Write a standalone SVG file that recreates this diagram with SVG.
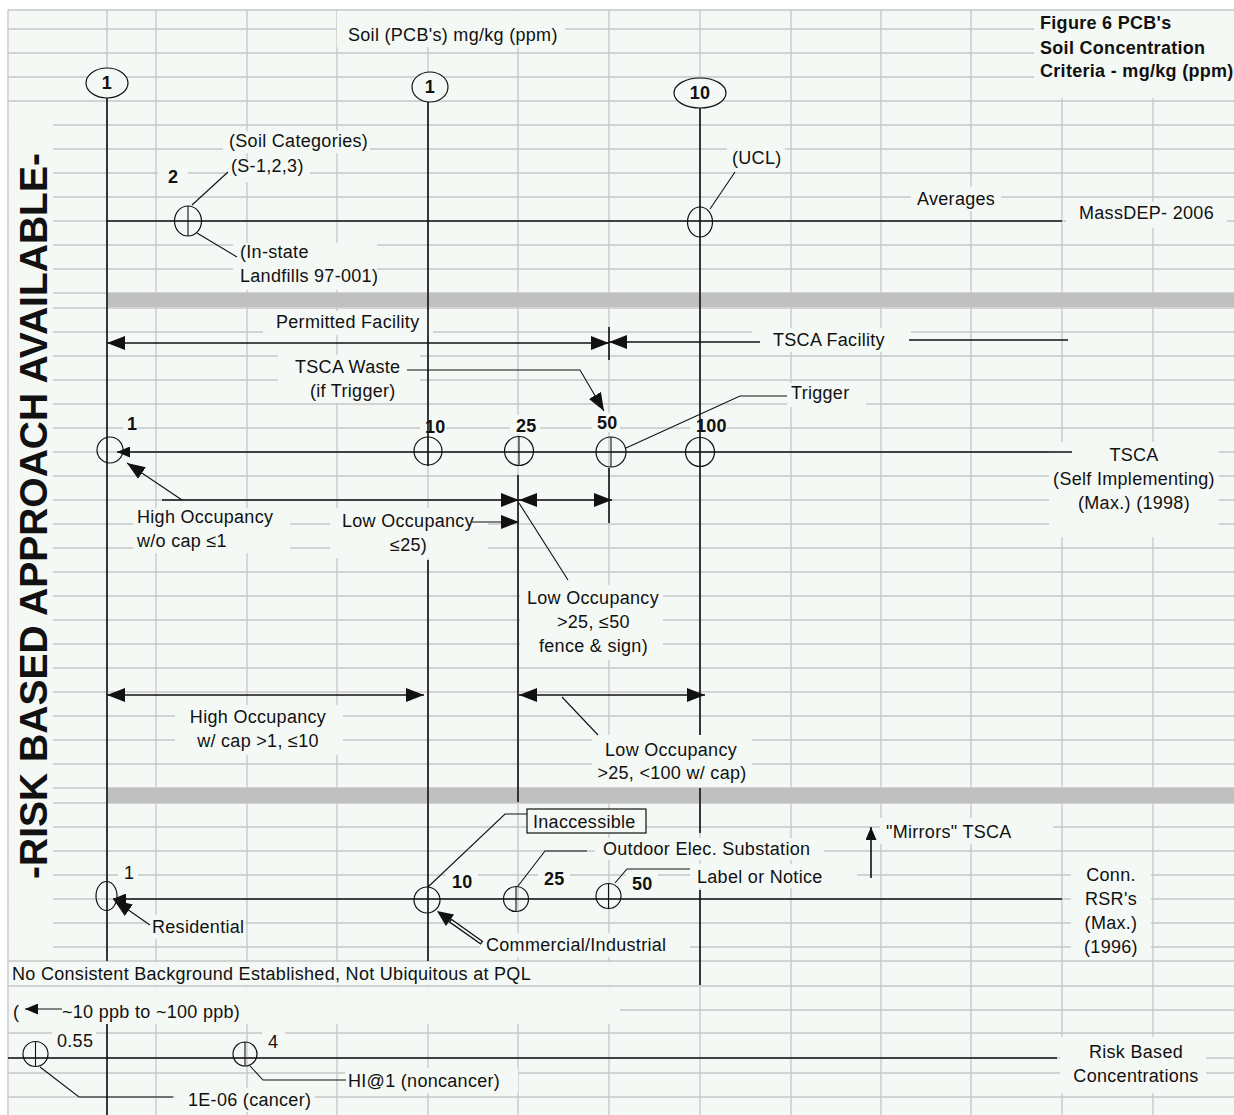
<svg xmlns="http://www.w3.org/2000/svg" width="1234" height="1115" viewBox="0 0 1234 1115">
<defs>
<style>
.t{font-family:"Liberation Sans",Arial,sans-serif;font-size:18px;fill:#111;letter-spacing:0.3px}
.b{font-weight:bold}
.m{text-anchor:middle}
.grid{stroke:#c6c6c6;stroke-width:1.3;fill:none}
.bg{fill:#f5f9f5}
.ln{stroke:#111;stroke-width:1.6;fill:none}
.lt{stroke:#111;stroke-width:1.1;fill:none}
.c{stroke:#111;stroke-width:1.2;fill:none}
.cf{stroke:#111;stroke-width:1.2;fill:#f5f9f5}
.band{fill:#c0c0c0}
</style>
<marker id="ah" viewBox="0 0 18 14" refX="18" refY="7" markerWidth="18" markerHeight="14" markerUnits="userSpaceOnUse" orient="auto-start-reverse"><path d="M0,0 L18,7 L0,14 z" fill="#111"/></marker>
<marker id="as" viewBox="0 0 13 11" refX="13" refY="5.5" markerWidth="13" markerHeight="11" markerUnits="userSpaceOnUse" orient="auto-start-reverse"><path d="M0,0 L13,5.5 L0,11 z" fill="#111"/></marker>
</defs>

<rect width="1234" height="1115" fill="#fff"/>
<rect x="8" y="10" width="1226" height="1105" class="bg"/>

<g id="grid">
<path class="grid" d="M8,10 H1234 M8,29 H1234 M8,53 H1234 M8,77 H1234 M8,101 H1234 M8,125 H1234 M8,149 H1234 M8,173 H1234 M8,197 H1234 M8,221 H1234 M8,245 H1234 M8,269 H1234 M8,293 H1234 M8,308 H1234 M8,332 H1234 M8,356 H1234 M8,380 H1234 M8,404 H1234 M8,428 H1234 M8,452 H1234 M8,476 H1234 M8,500 H1234 M8,524 H1234 M8,548 H1234 M8,572 H1234 M8,596 H1234 M8,620 H1234 M8,644 H1234 M8,668 H1234 M8,692 H1234 M8,716 H1234 M8,740 H1234 M8,764 H1234 M8,788 H1234 M8,803 H1234 M8,827 H1234 M8,851 H1234 M8,875 H1234 M8,899 H1234 M8,923 H1234 M8,947 H1234 M8,961 H1234 M8,986 H1234 M8,1010 H1234 M8,1033 H1234 M8,1058 H1234 M8,1073 H1234 M8,1097 H1234"/>
<path class="grid" d="M8,10 V1115 M107,10 V1115 M156,10 V1115 M247,10 V1115 M337,10 V1115 M428,10 V1115 M518,10 V1115 M609,10 V1115 M700,10 V1115 M791,10 V1115 M881,10 V1115 M971,10 V1115 M1062,10 V1115 M1153,10 V1115"/>
</g>

<g id="bands">
<rect class="band" x="107" y="293" width="1127" height="14"/>
<rect class="band" x="107" y="788" width="1127" height="15"/>
</g>

<g id="cell-backgrounds" class="bg">
<rect x="9" y="102" width="44" height="858"/>
<rect x="337" y="11" width="228" height="36"/>
<rect x="1034" y="11" width="200" height="87"/>
<rect x="223" y="131" width="147" height="22"/>
<rect x="158" y="165" width="30" height="24"/>
<rect x="227" y="160" width="83" height="22"/>
<rect x="233" y="243" width="144" height="47"/>
<rect x="727" y="146" width="58" height="24"/>
<rect x="911" y="187" width="90" height="24"/>
<rect x="1066" y="202" width="161" height="26"/>
<rect x="263" y="311" width="170" height="24"/>
<rect x="278" y="355" width="142" height="48"/>
<rect x="752" y="328" width="159" height="24"/>
<rect x="787" y="383" width="79" height="24"/>
<rect x="123" y="416" width="14" height="18"/>
<rect x="420" y="417" width="26" height="19"/>
<rect x="510" y="415" width="30" height="19"/>
<rect x="592" y="413" width="28" height="19"/>
<rect x="690" y="416" width="37" height="19"/>
<rect x="1049" y="442" width="170" height="95"/>
<rect x="133" y="508" width="157" height="45"/>
<rect x="330" y="508" width="158" height="50"/>
<rect x="520" y="585" width="143" height="75"/>
<rect x="175" y="705" width="168" height="50"/>
<rect x="592" y="735" width="160" height="52"/>
<rect x="595" y="838" width="229" height="22"/>
<rect x="690" y="864" width="167" height="24"/>
<rect x="880" y="818" width="173" height="26"/>
<rect x="118" y="863" width="20" height="20"/>
<rect x="446" y="871" width="32" height="22"/>
<rect x="538" y="868" width="32" height="22"/>
<rect x="626" y="872" width="32" height="22"/>
<rect x="147" y="915" width="98" height="24"/>
<rect x="480" y="933" width="210" height="24"/>
<rect x="1071" y="862" width="80" height="98"/>
<rect x="9" y="962" width="611" height="23"/>
<rect x="9" y="987" width="611" height="37"/>
<rect x="52" y="1030" width="44" height="22"/>
<rect x="262" y="1030" width="23" height="22"/>
<rect x="175" y="1088" width="140" height="24"/>
<rect x="345" y="1068" width="173" height="25"/>
<rect x="1060" y="1037" width="146" height="56"/>
</g>

<g id="connectors">
<path class="ln" d="M107,98 V961 M107,1024 V1115"/>
<path class="ln" d="M428,102 V466 M428,560 V961"/>
<path class="ln" d="M700,108 V735 M700,788 V833 M700,890 V985"/>
<path class="ln" d="M518,475 V802"/>
<path class="ln" d="M609,468 V523"/>
<path class="ln" d="M609,327 V360"/>
<path class="ln" d="M107,221 H1062"/>
<path class="lt" d="M192,205 L228,172"/>
<path class="lt" d="M197,233 L237,257"/>
<path class="lt" d="M710,209 L735,172"/>
<path class="ln" d="M107,343 H609" marker-start="url(#ah)" marker-end="url(#ah)"/>
<path class="ln" d="M760,342 H609" marker-end="url(#ah)"/>
<path class="ln" d="M909,340 H1068"/>
<path class="ln" d="M117,452 H1072" marker-start="url(#as)"/>
<path class="lt" d="M626,448 L740,396 H787"/>
<path class="lt" d="M407,370 H580 L604,411" marker-end="url(#ah)"/>
<path class="lt" d="M182,500 L127,463" marker-end="url(#ah)"/>
<path class="ln" d="M162,500 H519" marker-end="url(#ah)"/>
<path class="ln" d="M519,500 H612" marker-start="url(#ah)" marker-end="url(#ah)"/>
<path class="lt" d="M472,522 H519" marker-end="url(#ah)"/>
<path class="lt" d="M519,503 L568,580"/>
<path class="ln" d="M107,695 H424" marker-start="url(#ah)" marker-end="url(#ah)"/>
<path class="ln" d="M519,695 H705" marker-start="url(#ah)" marker-end="url(#ah)"/>
<path class="lt" d="M562,697 L598,735"/>
<path class="ln" d="M113,899 H1062" marker-start="url(#as)"/>
<path class="lt" d="M428,887 L505,814 H537"/>
<path class="lt" d="M518,886 L545,851 H587"/>
<path class="lt" d="M615,883 L627,869 H690"/>
<path class="lt" d="M150,925 L114,900" marker-end="url(#ah)"/>
<g id="commercial-arrow">
<path d="M482,943 L450,920.3" stroke="#111" stroke-width="4.5" fill="none"/>
<path d="M481,942.3 L451,921" stroke="#f5f9f5" stroke-width="1.8" fill="none"/>
<polygon points="437,911 454.1,914.6 445.9,926" fill="#111"/>
</g>
<path class="ln" d="M871,878 V827" marker-end="url(#as)"/>
<path class="lt" d="M62,1009 H25" marker-end="url(#as)"/>
<path class="ln" d="M8,1058 H1057"/>
<path class="lt" d="M40,1067 L79,1097 H173"/>
<path class="lt" d="M250,1066 L263,1080 H346"/>
</g>

<g id="node-top-1a"><ellipse class="cf" cx="107" cy="83" rx="21" ry="15"/><text class="t b m" x="107" y="89">1</text></g>
<g id="node-top-1b"><ellipse class="cf" cx="430" cy="87" rx="18" ry="15"/><text class="t b m" x="430" y="93">1</text></g>
<g id="node-top-10"><ellipse class="cf" cx="700" cy="93" rx="26" ry="15"/><text class="t b m" x="700" y="99">10</text></g>

<g id="node-massdep-2"><ellipse class="c" cx="188" cy="221" rx="13.5" ry="15"/><path class="lt" d="M188,206 V236"/><text class="t b" x="168" y="183">2</text></g>
<g id="node-massdep-ucl"><ellipse class="c" cx="700" cy="222" rx="12.5" ry="15"/></g>

<g id="node-tsca-1"><circle class="c" cx="110" cy="450" r="13"/><text class="t b" x="127" y="430">1</text></g>
<g id="node-tsca-10"><circle class="c" cx="428" cy="451" r="14"/><text class="t b" x="425" y="433">10</text></g>
<g id="node-tsca-25"><circle class="c" cx="519" cy="451" r="14.5"/><path class="lt" d="M519,437 V466"/><text class="t b" x="516" y="432">25</text></g>
<g id="node-tsca-50"><circle class="c" cx="611" cy="452" r="15"/><path class="lt" d="M611,437 V467"/><text class="t b" x="597" y="429">50</text></g>
<g id="node-tsca-100"><circle class="c" cx="700" cy="452" r="14.5"/><text class="t b" x="696" y="432">100</text></g>

<g id="node-conn-1"><ellipse class="c" cx="106.5" cy="896" rx="10.5" ry="14.5"/><text class="t" x="124" y="879">1</text></g>
<g id="node-conn-10"><circle class="c" cx="427" cy="900" r="13"/><text class="t b" x="452" y="888">10</text></g>
<g id="node-conn-25"><circle class="c" cx="516" cy="899" r="12.5"/><path class="lt" d="M516,887 V912"/><text class="t b" x="544" y="885">25</text></g>
<g id="node-conn-50"><circle class="c" cx="608.5" cy="896" r="12.5"/><path class="lt" d="M608.5,883 V909"/><text class="t b" x="632" y="890">50</text></g>

<g id="node-risk-055"><circle class="c" cx="35.5" cy="1054" r="12.5"/><path class="lt" d="M35.5,1042 V1066"/><text class="t" x="57" y="1047">0.55</text></g>
<g id="node-risk-4"><circle class="c" cx="245" cy="1054" r="12"/><path class="lt" d="M245,1042 V1066"/><text class="t" x="268" y="1048">4</text></g>

<g id="node-inaccessible"><rect x="527" y="809" width="119" height="24" fill="#f5f9f5" stroke="#111" stroke-width="1.2"/><text class="t" x="533" y="828">Inaccessible</text></g>

<g id="labels">
<text class="t b m" transform="translate(47,516) rotate(-90)" style="font-size:39px;letter-spacing:0">-RISK BASED APPROACH AVAILABLE-</text>
<text class="t" x="348" y="41">Soil (PCB's) mg/kg (ppm)</text>
<text class="t b" x="1040" y="29">Figure 6 PCB's</text>
<text class="t b" x="1040" y="54">Soil Concentration</text>
<text class="t b" x="1040" y="77">Criteria - mg/kg (ppm)</text>
<text class="t" x="229" y="147">(Soil Categories)</text>
<text class="t" x="231" y="172">(S-1,2,3)</text>
<text class="t" x="240" y="258">(In-state</text>
<text class="t" x="240" y="282">Landfills 97-001)</text>
<text class="t" x="732" y="164">(UCL)</text>
<text class="t" x="917" y="205">Averages</text>
<text class="t" x="1079" y="219">MassDEP- 2006</text>
<text class="t" x="276" y="328">Permitted Facility</text>
<text class="t" x="773" y="346">TSCA Facility</text>
<text class="t" x="295" y="373">TSCA Waste</text>
<text class="t" x="310" y="397">(if Trigger)</text>
<text class="t" x="791" y="399">Trigger</text>
<text class="t m" x="1134" y="461">TSCA</text>
<text class="t m" x="1134" y="485">(Self Implementing)</text>
<text class="t m" x="1134" y="509">(Max.) (1998)</text>
<text class="t" x="137" y="523">High Occupancy</text>
<text class="t" x="137" y="547">w/o cap ≤1</text>
<text class="t" x="342" y="527">Low Occupancy</text>
<text class="t" x="390" y="551">≤25)</text>
<text class="t" x="527" y="604">Low Occupancy</text>
<text class="t" x="557" y="628">&gt;25, ≤50</text>
<text class="t" x="539" y="652">fence &amp; sign)</text>
<text class="t m" x="258" y="723">High Occupancy</text>
<text class="t m" x="258" y="747">w/ cap &gt;1, ≤10</text>
<text class="t m" x="671" y="756">Low Occupancy</text>
<text class="t m" x="672" y="779">&gt;25, &lt;100 w/ cap)</text>
<text class="t" x="603" y="855">Outdoor Elec. Substation</text>
<text class="t" x="697" y="883">Label or Notice</text>
<text class="t" x="886" y="838">"Mirrors" TSCA</text>
<text class="t" x="152" y="933">Residential</text>
<text class="t" x="486" y="951">Commercial/Industrial</text>
<text class="t m" x="1111" y="881">Conn.</text>
<text class="t m" x="1111" y="905">RSR's</text>
<text class="t m" x="1111" y="929">(Max.)</text>
<text class="t m" x="1111" y="953">(1996)</text>
<text class="t" x="12" y="980">No Consistent Background Established, Not Ubiquitous at PQL</text>
<text class="t" x="13" y="1018">(</text>
<text class="t" x="62" y="1018">~10 ppb to ~100 ppb)</text>
<text class="t" x="188" y="1106">1E-06 (cancer)</text>
<text class="t" x="348" y="1087">HI@1 (noncancer)</text>
<text class="t m" x="1136" y="1058">Risk Based</text>
<text class="t m" x="1136" y="1082">Concentrations</text>
</g>
</svg>
